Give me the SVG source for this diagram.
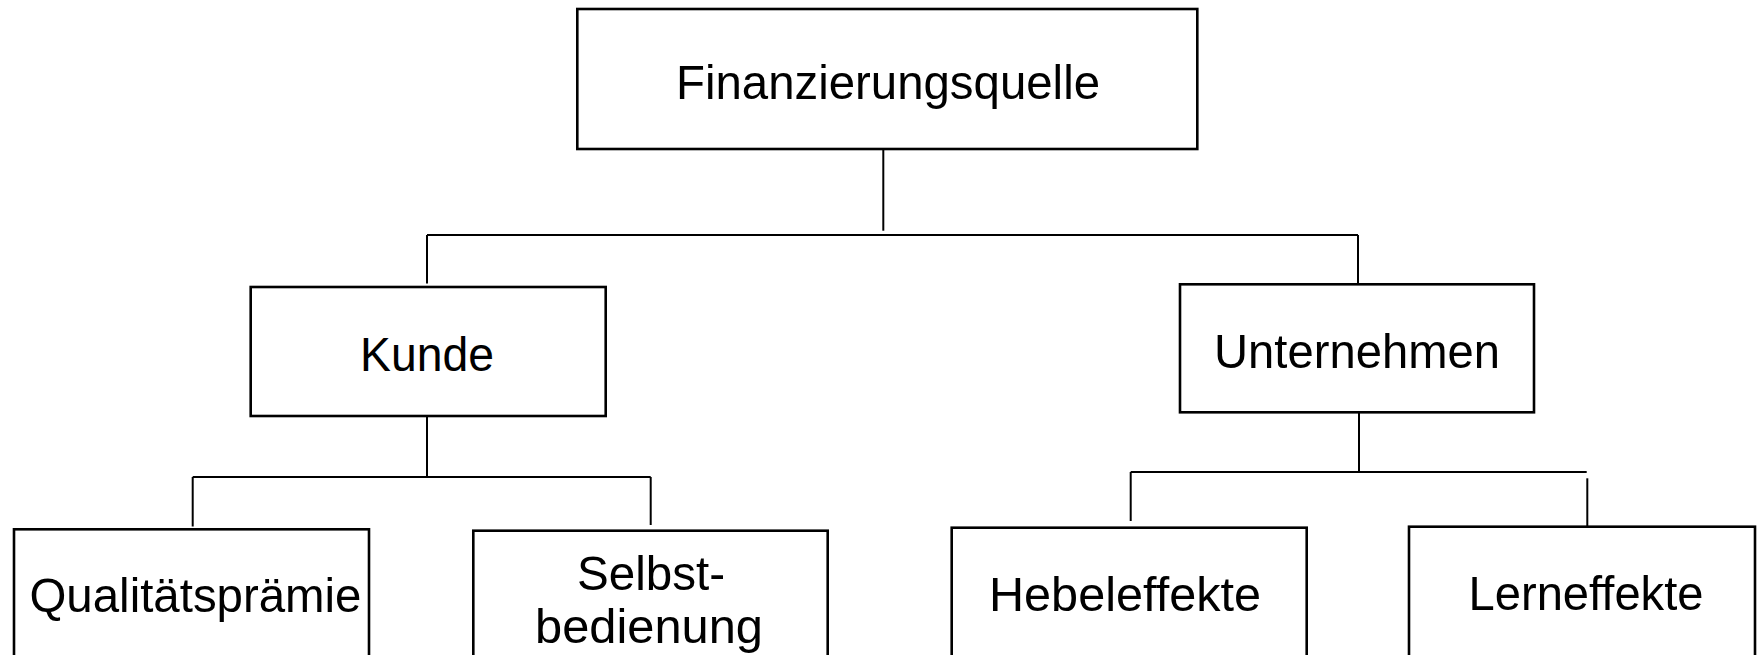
<svg xmlns="http://www.w3.org/2000/svg" width="1758" height="655" viewBox="0 0 1758 655">
<style>
.box{fill:#fff;stroke:#000;stroke-width:2.6}
.ln{fill:none;stroke:#000;stroke-width:2}
text{font-family:"Liberation Sans",Arial,sans-serif;font-size:49px;fill:#000;text-anchor:middle}
</style>
<rect width="1758" height="655" fill="#fff"/>
<g id="connectors">
<path class="ln" d="M883.3 149 V230.7"/>
<path class="ln" d="M427 235 H1358"/>
<path class="ln" d="M427 235 V283.5"/>
<path class="ln" d="M1358 235 V284"/>
<path class="ln" d="M427 416 V477.5"/>
<path class="ln" d="M192.7 477 H650.7"/>
<path class="ln" d="M192.7 477 V526.5"/>
<path class="ln" d="M650.7 477 V525"/>
<path class="ln" d="M1359 412 V472"/>
<path class="ln" d="M1130.7 472 H1586.7"/>
<path class="ln" d="M1130.7 472 V521"/>
<path class="ln" d="M1587.3 478.3 V527"/>
</g>
<g id="n-finanzierungsquelle">
<rect class="box" x="577.3" y="9" width="620" height="140"/>
<text x="888" y="98.5" textLength="424" lengthAdjust="spacingAndGlyphs">Finanzierungsquelle</text>
</g>
<g id="n-kunde">
<rect class="box" x="250.7" y="287" width="355" height="129"/>
<text x="427" y="370.5" textLength="134" lengthAdjust="spacingAndGlyphs">Kunde</text>
</g>
<g id="n-unternehmen">
<rect class="box" x="1180" y="284.3" width="354" height="128"/>
<text x="1357" y="367.5" textLength="286" lengthAdjust="spacingAndGlyphs">Unternehmen</text>
</g>
<g id="n-qualitaetspraemie">
<rect class="box" x="14" y="529.3" width="355" height="140"/>
<text x="195.5" y="612" textLength="332" lengthAdjust="spacingAndGlyphs">Qualitätsprämie</text>
</g>
<g id="n-selbstbedienung">
<rect class="box" x="473.3" y="530.7" width="354.4" height="140"/>
<text x="651" y="590" textLength="148" lengthAdjust="spacingAndGlyphs">Selbst-</text>
<text x="649" y="643" textLength="228" lengthAdjust="spacingAndGlyphs">bedienung</text>
</g>
<g id="n-hebeleffekte">
<rect class="box" x="951.7" y="527.7" width="355" height="140"/>
<text x="1125" y="611" textLength="272" lengthAdjust="spacingAndGlyphs">Hebeleffekte</text>
</g>
<g id="n-lerneffekte">
<rect class="box" x="1409" y="526.7" width="346" height="140"/>
<text x="1586" y="610" textLength="235" lengthAdjust="spacingAndGlyphs">Lerneffekte</text>
</g>
</svg>
